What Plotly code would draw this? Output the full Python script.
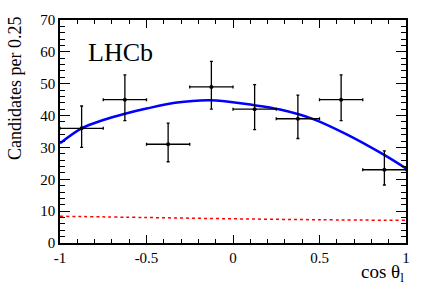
import plotly.graph_objects as go

# Data points (bin centres, counts, asymmetric errors)
bin_x = [-0.875, -0.625, -0.375, -0.125, 0.125, 0.375, 0.625, 0.875]
counts = [36, 45, 31, 49, 42, 39, 45, 23]
err_up = [7.0, 7.8, 6.6, 8.0, 7.7, 7.4, 7.8, 5.9]
err_down = [6.0, 6.6, 5.5, 7.0, 6.4, 6.2, 6.6, 4.8]
bin_halfwidth = [0.125] * 8

# Total fit curve
fit_x = [-1.0, -0.875, -0.75, -0.63, -0.5, -0.335, -0.133, 0.117, 0.272, 0.464, 0.657, 0.869, 1.0]
fit_y = [31.3, 36.0, 38.6, 40.5, 42.2, 44.0, 44.8, 43.3, 41.9, 38.9, 34.1, 27.8, 23.4]

# Background component
bkg_x = [-1.0, -0.5, 0.0, 0.5, 1.0]
bkg_y = [8.4, 8.0, 7.6, 7.3, 7.1]

x_ticks = [-1, -0.5, 0, 0.5, 1]
x_ticklabels = ["-1", "-0.5", "0", "0.5", "1"]
y_ticks = [0, 10, 20, 30, 40, 50, 60, 70]
y_ticklabels = ["0", "10", "20", "30", "40", "50", "60", "70"]

FONT = "Liberation Serif"

fig = go.Figure()
fig.add_trace(go.Scatter(x=bkg_x, y=bkg_y, mode="lines",
                         line=dict(color="red", width=1.5, dash="dot"),
                         line_shape="spline", showlegend=False))
fig.add_trace(go.Scatter(x=fit_x, y=fit_y, mode="lines",
                         line=dict(color="blue", width=2.5),
                         line_shape="spline", showlegend=False))
fig.add_trace(go.Scatter(
    x=bin_x, y=counts, mode="markers",
    marker=dict(color="black", size=4),
    error_y=dict(type="data", symmetric=False, array=err_up, arrayminus=err_down,
                 color="black", thickness=1.3, width=1.5),
    error_x=dict(type="data", array=bin_halfwidth, color="black", thickness=1.3, width=1.5),
    showlegend=False))

axis_common = dict(showline=True, linecolor="black", linewidth=1.5, mirror="ticks",
                   ticks="inside", tickcolor="black", tickwidth=1.2,
                   showgrid=False, zeroline=False,
                   tickfont=dict(family=FONT, size=15, color="black"))

fig.update_xaxes(range=[-1, 1], tickvals=x_ticks, ticktext=x_ticklabels, ticklen=8,
                 minor=dict(dtick=0.1, ticks="inside", ticklen=4, tickcolor="black", tickwidth=1.2),
                 **axis_common)
fig.update_yaxes(range=[0, 70], tickvals=y_ticks, ticktext=y_ticklabels, ticklen=10,
                 minor=dict(dtick=2, ticks="inside", ticklen=5, tickcolor="black", tickwidth=1.2),
                 **axis_common)

fig.add_annotation(text="LHCb", xref="paper", yref="paper", x=0.075, y=0.93,
                   xanchor="left", yanchor="top", showarrow=False,
                   font=dict(family=FONT, size=26, color="black"))
fig.add_annotation(text="cos θ<sub>l</sub>", xref="paper", yref="paper", x=1.0, y=-0.07,
                   xanchor="right", yanchor="top", showarrow=False,
                   font=dict(family=FONT, size=19, color="black"))
fig.add_annotation(text="Candidates per 0.25", xref="paper", yref="paper", x=-0.13, y=1.02,
                   xanchor="center", yanchor="top", textangle=-90, showarrow=False,
                   font=dict(family=FONT, size=18, color="black"))

fig.update_layout(width=427, height=290, margin=dict(l=60, r=21, t=14, b=47),
                  font=dict(family=FONT, color="black"),
                  plot_bgcolor="white", paper_bgcolor="white")

fig.write_html("out.html", config={"displayModeBar": False},
               post_script="document.body.style.margin='0px';")
